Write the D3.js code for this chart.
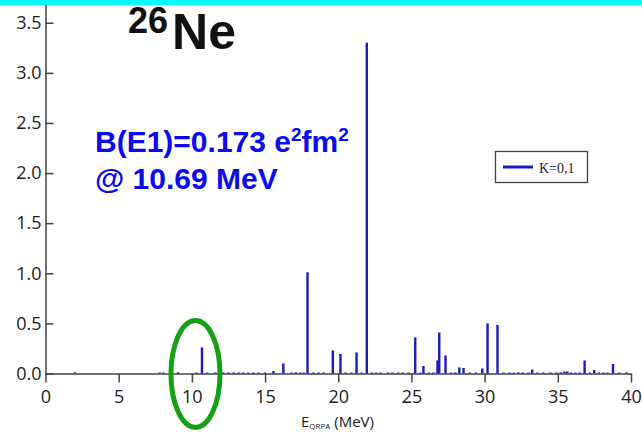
<!DOCTYPE html>
<html>
<head>
<meta charset="utf-8">
<script src="https://cdn.jsdelivr.net/npm/d3@7/dist/d3.min.js"></script>
<style>
  html, body { margin: 0; padding: 0; background: #fff; }
  svg { display: block; }
</style>
</head>
<body>
<svg id="chart" width="642" height="432"></svg>
<script>
// QRPA dipole strength of 26Ne, K=0,1 components (energy in MeV, strength)
const energies = [
  2.0, 7.8, 8.05, 9.05, 10.3, 10.69, 11.05, 11.6, 12.15, 12.5, 12.85, 13.2, 13.5, 13.85,
  14.2, 14.55, 15.0, 15.57, 16.25, 16.8, 17.1, 17.4, 17.65, 17.9, 18.3, 18.65, 19.0,
  19.63, 20.15, 20.5, 20.9, 21.25, 21.6, 21.95, 22.3, 22.6, 22.9, 23.4, 23.7, 24.1,
  24.4, 24.8, 25.26, 25.6, 25.82, 26.2, 26.5, 26.78, 26.9, 27.33, 27.7, 28.0, 28.27,
  28.56, 29.0, 29.4, 29.84, 30.2, 30.88, 31.3, 31.7, 32.0, 32.3, 32.6, 33.0, 33.25,
  33.6, 34.0, 34.5, 34.9, 35.2, 35.45, 35.65, 35.9, 36.2, 36.5, 36.83, 37.2, 37.49,
  37.8, 38.1, 38.4, 38.77, 39.2, 39.7
];
const strengths = [
  0.012, 0.008, 0.010, 0.012, 0.008, 0.26, 0.008, 0.010, 0.010, 0.010, 0.010, 0.010, 0.010, 0.010,
  0.010, 0.010, 0.008, 0.025, 0.10, 0.010, 0.012, 0.010, 0.010, 1.01, 0.010, 0.010, 0.010,
  0.23, 0.195, 0.010, 0.010, 0.21, 0.010, 3.30, 0.010, 0.010, 0.010, 0.010, 0.010, 0.010,
  0.010, 0.010, 0.36, 0.010, 0.075, 0.010, 0.010, 0.13, 0.41, 0.18, 0.010, 0.010, 0.06,
  0.055, 0.010, 0.010, 0.05, 0.50, 0.485, 0.008, 0.008, 0.010, 0.012, 0.008, 0.010, 0.04,
  0.010, 0.008, 0.010, 0.008, 0.012, 0.02, 0.02, 0.010, 0.010, 0.010, 0.13, 0.010, 0.035,
  0.010, 0.010, 0.010, 0.095, 0.010, 0.012
];
const xTicks = [0, 5, 10, 15, 20, 25, 30, 35, 40];
const yTicks = [0, 0.5, 1.0, 1.5, 2.0, 2.5, 3.0, 3.5];
const seriesName = "K=0,1";
const peakEnergy = 10.69;   // MeV
const peakBE1 = 0.173;      // e^2 fm^2

const svg = d3.select("#chart");
const spikeColor = "#1a1ac4";

const x = d3.scaleLinear().domain([0, 40]).range([45.5, 631]);
const y = d3.scaleLinear().domain([0, 3.727]).range([373.5, 0]);

// axes
const xAxis = svg.append("g")
  .attr("transform", `translate(0,${y(0)})`)
  .call(d3.axisBottom(x).tickValues(xTicks).tickFormat(d3.format("d")).tickSize(9).tickSizeOuter(0).tickPadding(8));
const yAxis = svg.append("g")
  .attr("transform", `translate(${x(0)},0)`)
  .call(d3.axisLeft(y).tickValues(yTicks).tickFormat(d3.format(".1f")).tickSize(-8).tickSizeOuter(0).tickPadding(5));

[xAxis, yAxis].forEach(g => {
  g.select(".domain").attr("stroke", "#444").attr("stroke-width", 1.5);
  g.selectAll(".tick line").attr("stroke", "#444").attr("stroke-width", 1.5);
  g.selectAll(".tick text")
    .attr("fill", "#222")
    .style("font-family", "'Open Sans', sans-serif")
    .style("font-size", "18px");
});
yAxis.selectAll(".tick text").attr("x", -4);
xAxis.selectAll(".tick text").attr("dy", "0.71em");

// x-axis title
const xt = svg.append("text")
  .attr("x", 301).attr("y", 427)
  .attr("fill", "#222")
  .style("font-family", "'Open Sans', sans-serif")
  .style("font-size", "15px");
xt.append("tspan").text("E");
xt.append("tspan").attr("dy", 2).style("font-size", "8px").text("QRPA");
xt.append("tspan").attr("dy", -2).text(" (MeV)");

// strength spikes
const data = energies.map((e, i) => ({ e, s: strengths[i] }));
svg.append("g").selectAll("line")
  .data(data)
  .join("line")
  .attr("x1", d => x(d.e)).attr("x2", d => x(d.e))
  .attr("y1", y(0))
  .attr("y2", d => Math.min(y(d.s), y(0) - 1))
  .attr("stroke", spikeColor)
  .attr("stroke-width", 2.4);

// legend
const lg = svg.append("g");
lg.append("rect")
  .attr("x", 495.5).attr("y", 151.5).attr("width", 92).attr("height", 31)
  .attr("fill", "#fff").attr("stroke", "#444").attr("stroke-width", 1.3);
lg.append("line")
  .attr("x1", 503).attr("x2", 533).attr("y1", 167).attr("y2", 167)
  .attr("stroke", spikeColor).attr("stroke-width", 3);
lg.append("text")
  .attr("x", 539).attr("y", 172.5)
  .attr("fill", "#222")
  .style("font-family", "'Liberation Serif', 'DejaVu Serif', serif")
  .style("font-size", "14px")
  .text(seriesName);

// annotation of the lowest dipole peak
const ann = svg.append("g")
  .style("font-family", "'Liberation Sans', Arial, sans-serif")
  .style("font-weight", "bold")
  .attr("fill", "#0a0af0");
const l1 = ann.append("text").attr("x", 95).attr("y", 151.5).style("font-size", "30px");
l1.append("tspan").text(`B(E1)=${peakBE1} e`);
l1.append("tspan").attr("dy", -11).style("font-size", "19px").text("2");
l1.append("tspan").attr("dy", 11).text("fm");
l1.append("tspan").attr("dy", -11).style("font-size", "19px").text("2");
ann.append("text").attr("x", 95).attr("y", 188.5).style("font-size", "30px")
  .text(`@ ${peakEnergy} MeV`);

// green ring around the 10.69 MeV peak
svg.append("ellipse")
  .attr("cx", x(peakEnergy) - 6.5).attr("cy", 374)
  .attr("rx", 24.5).attr("ry", 53.5)
  .attr("fill", "none").attr("stroke", "#16a016").attr("stroke-width", 5);

// nucleus label
const title = svg.append("text")
  .attr("y", 49)
  .attr("fill", "#111")
  .style("font-family", "'Liberation Sans', Arial, sans-serif")
  .style("font-weight", "bold");
title.append("tspan").attr("x", 128).attr("dy", -16).style("font-size", "36px").text("26");
title.append("tspan").attr("dx", 4).attr("dy", 16).style("font-size", "50px").text("Ne");

// top band
svg.append("rect").attr("x", 0).attr("y", 0).attr("width", 642).attr("height", 5).attr("fill", "#00ffff");
</script>
</body>
</html>
